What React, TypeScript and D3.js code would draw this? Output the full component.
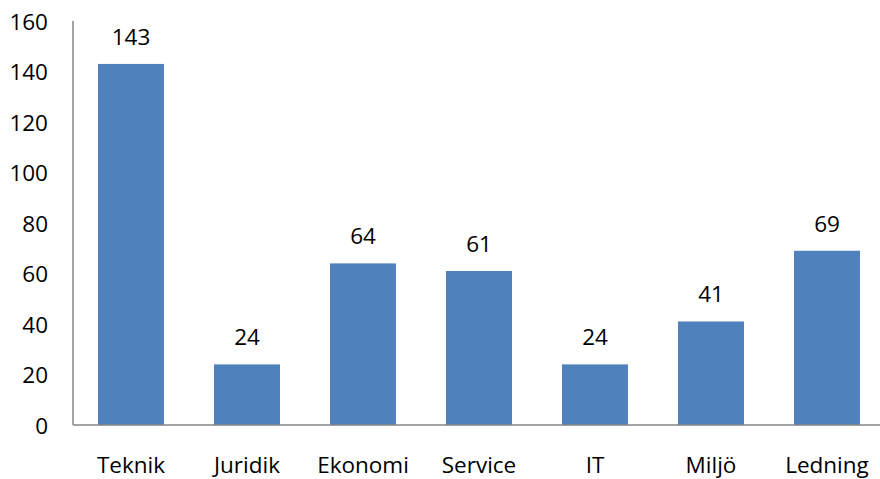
import React from "react";
import * as d3 from "d3";

const categories = ["Teknik", "Juridik", "Ekonomi", "Service", "IT", "Miljö", "Ledning"];
const values = [143, 24, 64, 61, 24, 41, 69];
const yTicks = [0, 20, 40, 60, 80, 100, 120, 140, 160];

const W = 880;
const H = 479;

export default function App() {
  const x = d3
    .scaleBand<string>()
    .domain(categories)
    .range([73, 885])
    .paddingInner(0.431)
    .paddingOuter(0.2155);
  const y = d3.scaleLinear().domain([0, 160]).range([425, 21]);
  const font = "'Open Sans', sans-serif";
  const fs = 22.5;
  return (
    <svg
      width={W}
      height={H}
      style={{ position: "absolute", left: 0, top: 0 }}
      fontFamily={font}
    >
      <rect width={W} height={H} fill="#ffffff" />
      {yTicks.map((t) => (
        <text
          key={t}
          x={48}
          y={y(t)}
          textAnchor="end"
          dominantBaseline="central"
          fontSize={fs}
          fill="#000"
        >
          {t}
        </text>
      ))}
      {categories.map((c, i) => (
        <g key={c}>
          <rect
            x={x(c)}
            y={y(values[i])}
            width={x.bandwidth()}
            height={y(0) - y(values[i])}
            fill="#4F81BD"
          />
          <text
            x={(x(c) as number) + x.bandwidth() / 2}
            y={y(values[i]) - 19}
            textAnchor="middle"
            fontSize={fs}
            fill="#000"
          >
            {values[i]}
          </text>
          <text
            x={(x(c) as number) + x.bandwidth() / 2}
            y={472.5}
            textAnchor="middle"
            fontSize={fs}
            fill="#000"
          >
            {c}
          </text>
        </g>
      ))}
      <line x1={73} x2={73} y1={y(160)} y2={y(0)} stroke="#868686" strokeWidth={1.5} />
      <line x1={73} x2={W} y1={y(0)} y2={y(0)} stroke="#868686" strokeWidth={1.5} />
    </svg>
  );
}
